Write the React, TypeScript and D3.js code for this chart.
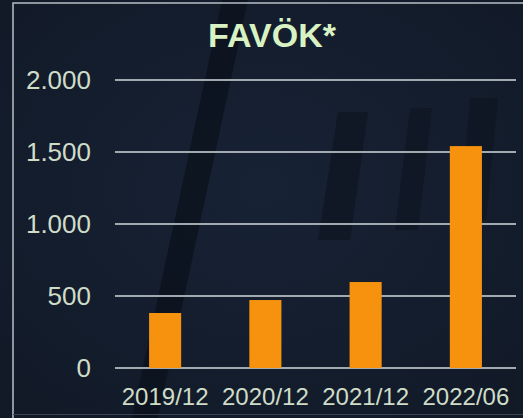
import React from "react";
import * as d3 from "d3";

const categories = ["2019/12", "2020/12", "2021/12", "2022/06"];
const values = [382, 472, 597, 1541];
const yTicks = [0, 500, 1000, 1500, 2000];
const title = "FAVÖK*";

const W = 523;
const H = 418;

const fmt = (v: number) => (v >= 1000 ? d3.format(",")(v).replace(/,/g, ".") : String(v));

export default function App() {
  const x = d3.scaleBand<string>().domain(categories).range([115, 516]).paddingInner(0.68).paddingOuter(0.34);
  const y = d3.scaleLinear().domain([0, 2000]).range([368, 80]);
  const font = "'Liberation Sans', Arial, sans-serif";
  return (
    <svg width={W} height={H} style={{ position: "absolute", left: 0, top: 0, display: "block" }}>
      <defs>
        <radialGradient id="bg" cx="0.5" cy="0.45" r="0.75">
          <stop offset="0" stopColor="#172235" />
          <stop offset="1" stopColor="#111926" />
        </radialGradient>
      </defs>
      <rect x={0} y={0} width={W} height={H} fill="url(#bg)" />
      {/* faint background decoration */}
      <polygon points="222,0 248,0 158,418 132,418" fill="#0b111c" opacity={0.75} />
      <polygon points="338,112 368,112 350,240 318,240" fill="#0c121d" opacity={0.55} />
      <polygon points="410,108 432,108 418,230 395,230" fill="#0c121d" opacity={0.5} />
      <polygon points="470,98 498,98 486,220 460,220" fill="#0c121d" opacity={0.5} />
      {/* frame */}
      <path d={`M13,${H} L13,3 L${W},3`} fill="none" stroke="#b9bfc6" strokeWidth={1.5} />
      <line x1={13} x2={W} y1={414.5} y2={414.5} stroke="#3a4450" strokeWidth={1} />
      {/* title */}
      <text x={272} y={47} textAnchor="middle" fontFamily={font} fontWeight="bold" fontSize={34} fill="#d8f2c4">
        {title}
      </text>
      {/* gridlines */}
      {yTicks.map((t) => (
        <line key={t} x1={115} x2={516} y1={y(t)} y2={y(t)} stroke="#a3a9b0" strokeWidth={2} />
      ))}
      {/* y labels */}
      {yTicks.map((t) => (
        <text key={t} x={91} y={y(t)} dy="0.35em" textAnchor="end" fontFamily={font} fontSize={26} fill="#cfdcc8">
          {fmt(t)}
        </text>
      ))}
      {/* bars */}
      {values.map((v, i) => (
        <rect
          key={categories[i]}
          x={x(categories[i])}
          y={y(v)}
          width={x.bandwidth()}
          height={y(0) - y(v)}
          fill="#f7920f"
        />
      ))}
      {/* x labels */}
      {categories.map((c) => (
        <text
          key={c}
          x={(x(c) as number) + x.bandwidth() / 2}
          y={397}
          dy="0.35em"
          textAnchor="middle"
          fontFamily={font}
          fontSize={24}
          fill="#cfdcc8"
        >
          {c}
        </text>
      ))}
    </svg>
  );
}
